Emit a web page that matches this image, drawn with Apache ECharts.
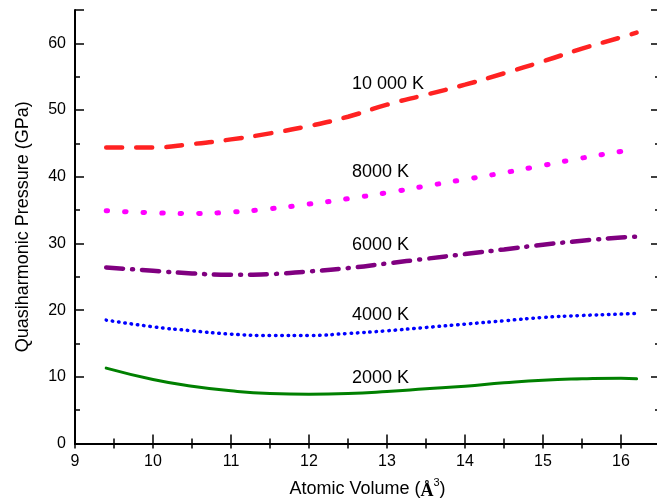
<!DOCTYPE html>
<html>
<head>
<meta charset="utf-8">
<script src="https://cdn.jsdelivr.net/npm/echarts@6/dist/echarts.min.js"></script>
<style>
  html, body { margin: 0; padding: 0; background: #fff; }
  #chart { width: 657px; height: 502px; }
</style>
</head>
<body>
<div id="chart"></div>
<script>
// atomic volume (Å^3)
const volumes = [9.4, 10, 10.5, 11, 11.5, 12, 12.5, 13, 13.5, 14, 14.5, 15, 15.5, 16, 16.2];
// quasiharmonic pressure (GPa) per temperature
const p10000 = [44.4, 44.4, 44.9, 45.6, 46.5, 47.6, 49.0, 50.8, 52.3, 53.8, 55.5, 57.3, 59.2, 60.9, 61.6];
const p8000 = [34.9, 34.6, 34.5, 34.7, 35.2, 35.9, 36.7, 37.6, 38.6, 39.6, 40.6, 41.7, 42.8, 43.8, 44.2];
const p6000 = [26.4, 25.9, 25.5, 25.3, 25.4, 25.8, 26.3, 27.0, 27.7, 28.4, 29.1, 29.8, 30.4, 30.9, 31.0];
const p4000 = [18.5, 17.5, 16.9, 16.4, 16.2, 16.2, 16.5, 16.9, 17.4, 17.9, 18.4, 18.9, 19.2, 19.4, 19.5];
const p2000 = [11.3, 9.6, 8.6, 7.9, 7.5, 7.4, 7.5, 7.8, 8.2, 8.6, 9.1, 9.5, 9.7, 9.8, 9.7];
// curve labels and where they sit (data coords)
const curveLabels = ['10 000 K', '8000 K', '6000 K', '4000 K', '2000 K'];
const labelAt = [[12.55, 53.9], [12.55, 40.7], [12.55, 29.8], [12.55, 19.3], [12.55, 9.8]];

const chart = echarts.init(document.getElementById('chart'));
const font = 'Liberation Sans, Arial, sans-serif';

function pairs(ys) {
  return volumes.map((v, i) => [v, ys[i]]);
}

function line(ys, color, width, type) {
  return {
    type: 'line',
    data: pairs(ys),
    smooth: true,
    showSymbol: false,
    silent: true,
    animation: false,
    lineStyle: {color: color, width: width, type: type, cap: 'round'}
  };
}

const axisLine = {show: true, lineStyle: {color: '#000', width: 2}};

let option = {
  backgroundColor: '#fff',
  grid: {left: 75, top: 10, width: 585, height: 433.5, outerBoundsMode: 'none', containLabel: false},
  xAxis: [{
    type: 'value',
    min: 9,
    max: 16.5,
    interval: 1,
    axisLine: axisLine,
    axisTick: {inside: true, length: 9, lineStyle: {color: '#000', width: 1.5}},
    minorTick: {show: true, splitNumber: 2, length: 5, lineStyle: {color: '#000', width: 1.5}},
    splitLine: {show: false},
    axisLabel: {
      color: '#000', fontSize: 16, fontFamily: font, margin: 10,
      formatter: v => (v > 16 ? '' : v)
    },
    name: 'Atomic Volume ({a|Å}{s|3})',
    nameLocation: 'middle',
    nameGap: 34,
    nameTextStyle: {
      color: '#000', fontSize: 18, fontFamily: font,
      rich: {
        a: {fontSize: 18, fontWeight: 'bold', fontFamily: 'Liberation Serif, serif', color: '#000', verticalAlign: 'bottom'},
        s: {fontSize: 11, fontFamily: font, color: '#000', verticalAlign: 'top', padding: [0, 0, 12, 0]}
      }
    }
  }, {
    type: 'value',
    position: 'top',
    min: 9,
    max: 16.5,
    interval: 0.5,
    axisLine: axisLine,
    axisTick: {inside: true, length: 5, lineStyle: {color: '#000', width: 1.5}},
    axisLabel: {show: false},
    splitLine: {show: false}
  }],
  yAxis: [{
    type: 'value',
    min: 0,
    max: 65,
    interval: 10,
    axisLine: axisLine,
    axisTick: {inside: true, length: 9, lineStyle: {color: '#000', width: 1.5}},
    minorTick: {show: true, splitNumber: 2, length: 5, lineStyle: {color: '#000', width: 1.5}},
    splitLine: {show: false},
    axisLabel: {
      color: '#000', fontSize: 16, fontFamily: font, margin: 9,
      formatter: v => (v > 60 ? '' : v)
    },
    name: 'Quasiharmonic Pressure (GPa)',
    nameLocation: 'middle',
    nameGap: 43,
    nameTextStyle: {color: '#000', fontSize: 18, fontFamily: font}
  }, {
    type: 'value',
    position: 'right',
    min: 0,
    max: 65,
    interval: 10,
    axisLine: axisLine,
    axisTick: {inside: true, length: 9, lineStyle: {color: '#000', width: 1.5}},
    minorTick: {show: true, splitNumber: 2, length: 5, lineStyle: {color: '#000', width: 1.5}},
    axisLabel: {show: false},
    splitLine: {show: false}
  }],
  series: [
    line(p10000, '#ff2222', 4.5, [16, 14]),
    line(p8000, '#ff00ff', 5, [1.5, 17]),
    line(p6000, '#800080', 4.5, [17, 9, 1, 9]),
    line(p4000, '#0000ff', 3.5, [0.5, 5.8]),
    line(p2000, '#008000', 3, 'solid')
  ]
};

chart.setOption(option);

// curve labels placed through the grid's own coordinate system
chart.setOption({
  graphic: curveLabels.map((t, i) => {
    const pt = chart.convertToPixel({gridIndex: 0}, labelAt[i]);
    return {
      type: 'text',
      x: pt[0],
      y: pt[1],
      silent: true,
      style: {text: t, fill: '#000', fontSize: 18, fontFamily: font, textVerticalAlign: 'middle'}
    };
  })
});
</script>
</body>
</html>
